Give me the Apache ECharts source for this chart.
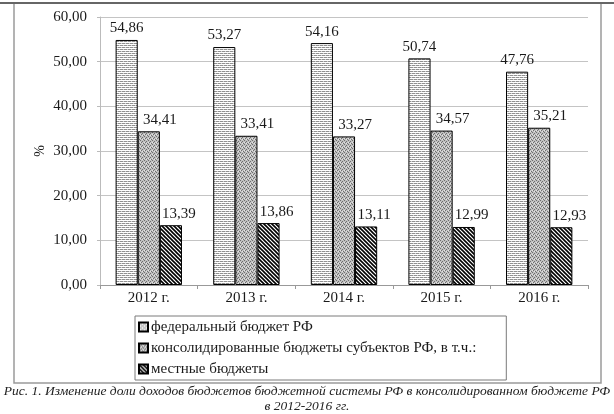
<!DOCTYPE html>
<html><head><meta charset="utf-8">
<script src="https://cdn.jsdelivr.net/npm/echarts@6/dist/echarts.min.js"></script>
<style>html,body{margin:0;padding:0;background:#fff}#c{width:614px;height:414px}</style>
</head><body><div id="c"></div>
<script>
const categories = ['2012 г.', '2013 г.', '2014 г.', '2015 г.', '2016 г.'];
const seriesNames = ['федеральный бюджет РФ', 'консолидированные бюджеты субъектов РФ, в т.ч.:', 'местные бюджеты'];
const federal = [54.86, 53.27, 54.16, 50.74, 47.76];
const regional = [34.41, 33.41, 33.27, 34.57, 35.21];
const local = [13.39, 13.86, 13.11, 12.99, 12.93];
const yTicks = [0, 10, 20, 30, 40, 50, 60];
const yLabel = '%';
const caption1 = 'Рис. 1. Изменение доли доходов бюджетов бюджетной системы РФ в консолидированном бюджете РФ';
const caption2 = 'в 2012-2016 гг.';

function mk(size, draw) {
  const c = document.createElement('canvas');
  c.width = size; c.height = size;
  const g = c.getContext('2d');
  draw(g, size);
  return c;
}
const patFederal = mk(4, (g, s) => {
  g.fillStyle = '#fff'; g.fillRect(0, 0, s, s);
  g.fillStyle = '#909090';
  g.fillRect(0, 1, 3, 1);
  g.fillRect(2, 3, 3, 1); g.fillRect(0, 3, 1, 1);
  g.fillStyle = '#d0d0d0';
  g.fillRect(3, 1, 1, 1); g.fillRect(1, 3, 1, 1);
});
const patRegional = mk(4, (g, s) => {
  g.fillStyle = '#c0c0c0'; g.fillRect(0, 0, s, s);
  g.fillStyle = '#6e6e6e';
  g.fillRect(0, 0, 1, 1); g.fillRect(2, 1, 1, 1);
  g.fillRect(1, 2, 1, 1); g.fillRect(3, 3, 1, 1);
  g.fillStyle = '#e4e4e4';
  g.fillRect(2, 3, 1, 1); g.fillRect(0, 2, 1, 1);
});
const patLocal = mk(4, (g, s) => {
  g.fillStyle = '#fff'; g.fillRect(0, 0, s, s);
  g.strokeStyle = '#000'; g.lineWidth = 1.6;
  for (const c of [-s, 0, s]) {
    g.beginPath(); g.moveTo(-1, c - 1); g.lineTo(s + 1, c + s + 1); g.stroke();
  }
});

const font = '"Liberation Serif", "Times New Roman", serif';
const fmt = v => v.toFixed(2).replace('.', ',');

function bar(name, data, pat, dx) {
  return {
    name, type: 'bar', data,
    barGap: '0%', barCategoryGap: '32%',
    itemStyle: { color: { image: pat, repeat: 'repeat' }, borderColor: '#000', borderWidth: 1 },
    label: { show: true, position: 'top', distance: 4, offset: [dx, 0], fontFamily: font, fontSize: 15, color: '#1a1a1a',
      formatter: p => fmt(p.value) }
  };
}

const chart = echarts.init(document.getElementById('c'), null, { renderer: 'canvas' });
chart.setOption({
  animation: false,
  backgroundColor: '#fff',
  grid: { left: 100, right: 26, top: 17, bottom: 129 },
  legend: {
    orient: 'vertical', left: 135, top: 316,
    borderColor: '#7a7a7a', borderWidth: 1, padding: [2, 30, 2, 3],
    itemWidth: 9, itemHeight: 9, itemGap: 3, icon: 'rect',
    textStyle: { fontFamily: font, fontSize: 15, lineHeight: 18, color: '#1a1a1a', padding: [0, 0, 0, -2] },
    data: seriesNames
  },
  xAxis: {
    type: 'category', data: categories,
    axisLine: { lineStyle: { color: '#999' } },
    axisTick: { show: true, length: 4, lineStyle: { color: '#999' } },
    axisLabel: { fontFamily: font, fontSize: 15, color: '#1a1a1a', margin: 6 }
  },
  yAxis: {
    type: 'value', min: yTicks[0], max: yTicks[yTicks.length - 1], interval: 10,
    name: yLabel, nameLocation: 'middle', nameGap: 53, nameRotate: 90, nameMoveOverlap: false,
    nameTextStyle: { fontFamily: font, fontSize: 14, color: '#1a1a1a' },
    axisLine: { show: true, lineStyle: { color: '#bbb' } },
    axisTick: { show: true, length: 3, lineStyle: { color: '#bbb' } },
    splitLine: { lineStyle: { color: '#c4c4c4' } },
    axisLabel: { fontFamily: font, fontSize: 15, color: '#1a1a1a', margin: 13, formatter: v => fmt(v) }
  },
  series: [bar(seriesNames[0], federal, patFederal, 0), bar(seriesNames[1], regional, patRegional, 11), bar(seriesNames[2], local, patLocal, 8)],
  graphic: [
    { type: 'rect', shape: { x: 14, y: 3, width: 587, height: 380 }, style: { fill: 'none', stroke: '#9a9a9a', lineWidth: 1.5 }, silent: true, z: -1 },
    { type: 'line', shape: { x1: 0, y1: 3, x2: 614, y2: 3 }, style: { stroke: '#666', lineWidth: 2 }, silent: true },
    { type: 'text', x: 307, y: 391, style: { text: caption1, font: 'italic 13.5px ' + font, fill: '#222', textAlign: 'center', textVerticalAlign: 'middle' } },
    { type: 'text', x: 307, y: 406, style: { text: caption2, font: 'italic 13.5px ' + font, fill: '#222', textAlign: 'center', textVerticalAlign: 'middle' } }
  ]
});
</script></body></html>
